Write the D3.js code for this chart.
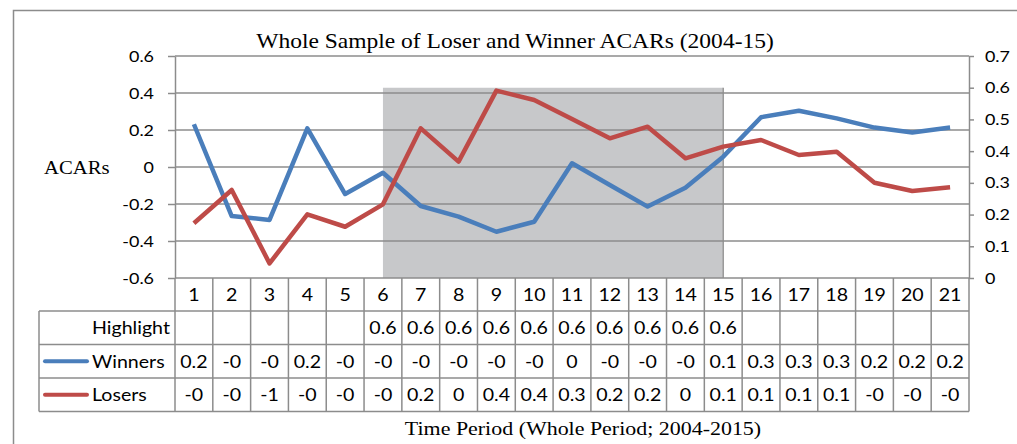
<!DOCTYPE html>
<html>
<head>
<meta charset="utf-8">
<script src="https://cdn.jsdelivr.net/npm/d3@7"></script>
<style>
  body { margin: 0; background: #fff; }
  svg { display: block; }
</style>
</head>
<body>
<script>
const w = 1017;
const h = 444;

const categories = ["1","2","3","4","5","6","7","8","9","10","11","12","13","14","15","16","17","18","19","20","21"];
const winners = [0.231, -0.265, -0.286, 0.209, -0.146, -0.031, -0.211, -0.268, -0.350, -0.296, 0.020,
                 -0.097, -0.214, -0.112, 0.056, 0.269, 0.304, 0.263, 0.213, 0.187, 0.213];
const losers = [-0.304, -0.124, -0.521, -0.256, -0.323, -0.202, 0.209, 0.029, 0.413, 0.362, 0.259,
                0.155, 0.218, 0.047, 0.110, 0.146, 0.065, 0.083, -0.085, -0.130, -0.110];
const highlight = [null, null, null, null, null, 0.6, 0.6, 0.6, 0.6, 0.6, 0.6,
                   0.6, 0.6, 0.6, 0.6, null, null, null, null, null, null];
const leftTicks = [-0.6, -0.4, -0.2, 0, 0.2, 0.4, 0.6];
const rightTicks = [0, 0.1, 0.2, 0.3, 0.4, 0.5, 0.6, 0.7];

const SX = 1.12;   // the picture is stretched sideways
const sans = "Lato, 'Open Sans', sans-serif";
const serif = "'Liberation Serif', 'Times New Roman', serif";
const gridColor = "#8c8c8c";

// excel data table shows short "general" numbers
function cellText(v) {
  if (v == null) return "";
  if (v < 0) return "-" + Math.round(-v);
  const r = Math.round(v * 10) / 10;
  return r === 0 ? "0" : String(r);
}

const plotLeft = 175, plotRight = 969, plotTop = 56, plotBottom = 278;

const xScale = d3.scaleBand().domain(categories).range([plotLeft, plotRight]);
const yLeft = d3.scaleLinear().domain([-0.6, 0.6]).range([plotBottom, plotTop]);
const yRight = d3.scaleLinear().domain([0, 0.7]).range([plotBottom, plotTop]);
const cx = d => xScale(d) + xScale.bandwidth() / 2;

const svg = d3.select("body").append("svg")
  .attr("width", w)
  .attr("height", h);

function label(x, y, txt, anchor, size, family) {
  return svg.append("text")
    .attr("transform", "translate(" + x + "," + y + ") scale(" + SX + ",1)")
    .attr("text-anchor", anchor)
    .style("font-family", family)
    .style("font-size", size + "px")
    .attr("fill", "#000")
    .text(txt);
}

// chart frame
svg.append("rect")
  .attr("x", 13.5).attr("y", 10.5)
  .attr("width", 1100).attr("height", 500)
  .attr("fill", "none").attr("stroke", "#8c8c8c").attr("stroke-width", 1.5);

// highlight area (secondary axis)
const hiData = categories.map((c, i) => ({c: c, v: highlight[i]}));
const area = d3.area()
  .defined(d => d.v != null)
  .x(d => cx(d.c))
  .y0(yRight(0))
  .y1(d => yRight(d.v));
svg.append("path")
  .datum(hiData)
  .attr("d", area)
  .attr("fill", "#c7c8ca");
const hiLast = hiData.filter(d => d.v != null).pop();
svg.append("line")
  .attr("x1", cx(hiLast.c)).attr("x2", cx(hiLast.c))
  .attr("y1", yRight(hiLast.v)).attr("y2", yRight(0))
  .attr("stroke", "#9a9a9a").attr("stroke-width", 1.5);

// gridlines
svg.append("g")
  .selectAll("line")
  .data(leftTicks)
  .enter()
  .append("line")
  .attr("x1", plotLeft).attr("x2", plotRight)
  .attr("y1", d => yLeft(d)).attr("y2", d => yLeft(d))
  .attr("stroke", gridColor).attr("stroke-width", 1.5);

// axes
const yAxisL = d3.axisLeft(yLeft)
  .tickValues(leftTicks)
  .tickSize(7).tickSizeOuter(0).tickPadding(14)
  .tickFormat(d => d === 0 ? "0" : d3.format(".1f")(d).replace("−", "-"));
const gl = svg.append("g")
  .attr("transform", "translate(" + plotLeft + ",0)")
  .call(yAxisL);

const yAxisR = d3.axisRight(yRight)
  .tickValues(rightTicks)
  .tickSize(5).tickSizeOuter(0).tickPadding(11)
  .tickFormat(d => d === 0 ? "0" : d3.format(".1f")(d));
const gr = svg.append("g")
  .attr("transform", "translate(" + plotRight + ",0)")
  .call(yAxisR);

[gl, gr].forEach(g => {
  g.select(".domain").attr("stroke", gridColor).attr("stroke-width", 1.5);
  g.selectAll(".tick line").attr("stroke", gridColor).attr("stroke-width", 1.5);
  g.selectAll(".tick text")
    .attr("x", function() { return +d3.select(this).attr("x") / SX; })
    .attr("transform", "scale(" + SX + ",1)")
    .style("font-family", sans)
    .style("font-size", "16px")
    .attr("fill", "#000");
});

// series lines
const line = d3.line()
  .x(d => cx(d.c))
  .y(d => yLeft(d.v));
const series = [
  {name: "Winners", values: winners, color: "#4a7ebb"},
  {name: "Losers", values: losers, color: "#be4b48"}
];
series.forEach(s => {
  svg.append("path")
    .datum(categories.map((c, i) => ({c: c, v: s.values[i]})))
    .attr("d", line)
    .attr("fill", "none")
    .attr("stroke", s.color)
    .attr("stroke-width", 4.5)
    .attr("stroke-linejoin", "round");
});

// data table
const rowLines = [311, 344.5, 378, 411.5];
const tableLeft = 39;
const tg = svg.append("g").attr("stroke", gridColor).attr("stroke-width", 1.5);
rowLines.forEach(y => {
  tg.append("line").attr("x1", tableLeft).attr("x2", plotRight).attr("y1", y).attr("y2", y);
});
const colEdges = categories.map(c => xScale(c)).concat([plotRight]);
colEdges.forEach(x => {
  tg.append("line").attr("x1", x).attr("x2", x).attr("y1", plotBottom).attr("y2", rowLines[3]);
});
tg.append("line").attr("x1", tableLeft).attr("x2", tableLeft).attr("y1", rowLines[0]).attr("y2", rowLines[3]);

const rowMid = [(plotBottom + rowLines[0]) / 2, (rowLines[0] + rowLines[1]) / 2,
                (rowLines[1] + rowLines[2]) / 2, (rowLines[2] + rowLines[3]) / 2];
const tableFont = 17.5;
categories.forEach((c, i) => {
  label(cx(c), rowMid[0] + 6.5, c, "middle", tableFont, sans);
  label(cx(c), rowMid[1] + 6.5, cellText(highlight[i]), "middle", tableFont, sans);
  label(cx(c), rowMid[2] + 6.5, cellText(winners[i]), "middle", tableFont, sans);
  label(cx(c), rowMid[3] + 6.5, cellText(losers[i]), "middle", tableFont, sans);
});

// legend column of the table
label(92, rowMid[1] + 6.5, "Highlight", "start", tableFont, sans);
series.forEach((s, i) => {
  const y = rowMid[i + 2];
  svg.append("line")
    .attr("x1", 45).attr("x2", 87)
    .attr("y1", y).attr("y2", y)
    .attr("stroke", s.color).attr("stroke-width", 4)
    .attr("stroke-linecap", "round");
  label(92, y + 6.5, s.name, "start", tableFont, sans);
});

// titles
label(515, 48, "Whole Sample of Loser and Winner ACARs (2004-15)", "middle", 21, serif);
label(44, 174, "ACARs", "start", 18.5, serif);
label(583, 435, "Time Period (Whole Period; 2004-2015)", "middle", 19.6, serif);
</script>
</body>
</html>
